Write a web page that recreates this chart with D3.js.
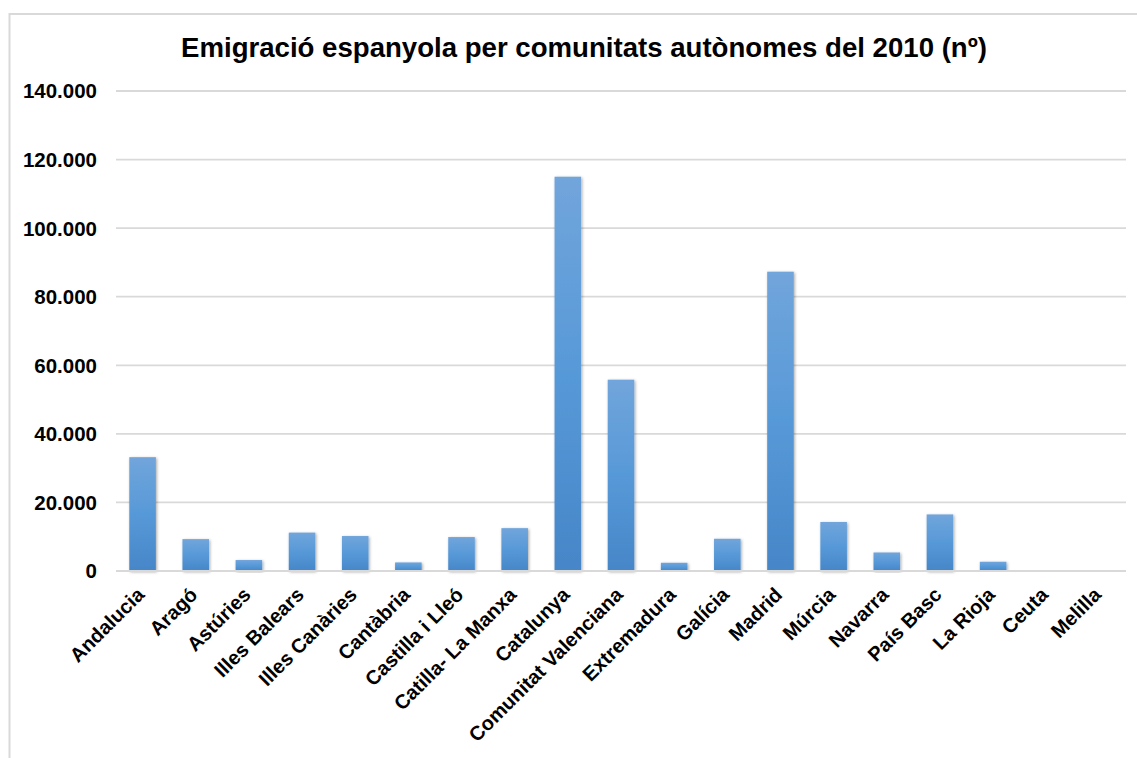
<!DOCTYPE html>
<html>
<head>
<meta charset="utf-8">
<script src="https://cdn.jsdelivr.net/npm/d3@7"></script>
<style>
  html, body { margin: 0; padding: 0; background: #fff; }
  svg { display: block; font-family: "Liberation Sans", Arial, sans-serif; }
</style>
</head>
<body>
<svg id="chart" width="1137" height="758"></svg>
<script>
const categories = ["Andalucia", "Aragó", "Astúries", "Illes Balears", "Illes Canàries", "Cantàbria",
  "Castilla i Lleó", "Catilla- La Manxa", "Catalunya", "Comunitat Valenciana", "Extremadura",
  "Galícia", "Madrid", "Múrcia", "Navarra", "País Basc", "La Rioja", "Ceuta", "Melilla"];
const values = [33200, 9300, 3200, 11200, 10200, 2500, 9900, 12500, 115000, 55800, 2400,
  9400, 87300, 14300, 5400, 16500, 2700, 200, 150];
const yTicks = [0, 20000, 40000, 60000, 80000, 100000, 120000, 140000];
const titleText = "Emigració espanyola per comunitats autònomes del 2010 (nº)";

const svg = d3.select("#chart");
const plotLeft = 116, plotRight = 1126, plotTop = 91, plotBottom = 571;

// chart area border
svg.append("rect").attr("x", 9.5).attr("y", 14).attr("width", 1140).attr("height", 760)
  .attr("fill", "#fff").attr("stroke", "#d9d9d9").attr("stroke-width", 2);

const defs = svg.append("defs");
const grad = defs.append("linearGradient").attr("id", "barGrad")
  .attr("x1", 0).attr("y1", 0).attr("x2", 0).attr("y2", 1);
grad.append("stop").attr("offset", "0%").attr("stop-color", "#71a5db");
grad.append("stop").attr("offset", "50%").attr("stop-color", "#5799d8");
grad.append("stop").attr("offset", "100%").attr("stop-color", "#4686c8");
const filt = defs.append("filter").attr("id", "shadow")
  .attr("x", "-30%").attr("y", "-10%").attr("width", "160%").attr("height", "120%");
filt.append("feDropShadow").attr("dx", 1).attr("dy", 1).attr("stdDeviation", 1.5)
  .attr("flood-color", "#000").attr("flood-opacity", 0.35);

const x = d3.scaleBand().domain(categories).range([plotLeft, plotRight])
  .paddingInner(0.5).paddingOuter(0.25);
const y = d3.scaleLinear().domain([0, 140000]).range([plotBottom, plotTop]);

// gridlines
svg.append("g").selectAll("line").data(yTicks).join("line")
  .attr("x1", plotLeft).attr("x2", plotRight)
  .attr("y1", d => y(d)).attr("y2", d => y(d))
  .attr("stroke", "#d9d9d9").attr("stroke-width", 1.8);

// y labels
const fmt = d => d === 0 ? "0" : d3.format(",")(d).replace(/,/g, ".");
svg.append("g").selectAll("text").data(yTicks).join("text")
  .attr("x", 97).attr("y", d => y(d))
  .attr("dy", "0.36em")
  .attr("text-anchor", "end")
  .attr("font-size", 20.5).attr("font-weight", "bold").attr("fill", "#000")
  .text(fmt);

// bars
svg.append("g").selectAll("rect").data(categories).join("rect")
  .attr("x", d => x(d))
  .attr("width", x.bandwidth())
  .attr("y", (d, i) => y(values[i]))
  .attr("height", (d, i) => y(0) - y(values[i]))
  .attr("fill", "url(#barGrad)")
  .attr("filter", "url(#shadow)");

// baseline
svg.append("line").attr("x1", plotLeft).attr("x2", plotRight)
  .attr("y1", y(0)).attr("y2", y(0))
  .attr("stroke", "#d9d9d9").attr("stroke-width", 2);

// x labels
svg.append("g").selectAll("text").data(categories).join("text")
  .attr("transform", d => `translate(${x(d) + x.bandwidth() / 2 + 3},${plotBottom + 25}) rotate(-45)`)
  .attr("text-anchor", "end")
  .attr("font-size", 20).attr("font-weight", "bold").attr("fill", "#000")
  .text(d => d);

// title
svg.append("text").attr("x", 584).attr("y", 57)
  .attr("text-anchor", "middle")
  .attr("font-size", 27.6).attr("font-weight", "bold").attr("fill", "#000")
  .text(titleText);
</script>
</body>
</html>
